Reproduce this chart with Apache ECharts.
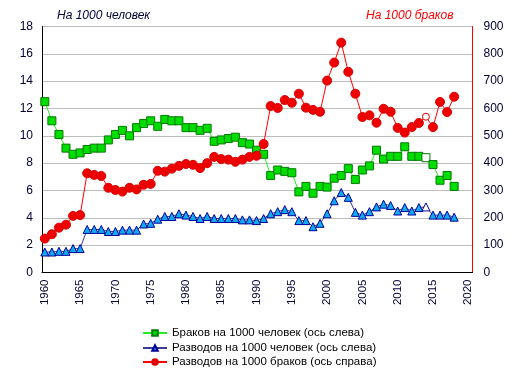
<!DOCTYPE html>
<html>
<head>
<meta charset="utf-8">
<script src="https://cdn.jsdelivr.net/npm/echarts@6/dist/echarts.min.js"></script>
<style>html,body{margin:0;padding:0;background:#fff}#c{width:520px;height:374px}</style>
</head>
<body>
<div id="c"></div>
<script>
var years = [];
for (var y = 1960; y <= 2018; y++) years.push(y);
var tickYears = [1960,1965,1970,1975,1980,1985,1990,1995,2000,2005,2010,2015,2020];
var marriages = [12.5,11.1,10.1,9.1,8.65,8.75,9.0,9.1,9.1,9.7,
  10.1,10.4,10.0,10.6,10.9,11.1,10.7,11.2,11.1,11.1,
  10.6,10.6,10.4,10.55,9.6,9.7,9.8,9.9,9.5,9.4,
  8.95,8.65,7.1,7.5,7.4,7.3,5.9,6.3,5.8,6.3,
  6.25,6.9,7.1,7.6,6.8,7.5,7.8,8.95,8.3,8.5,
  8.5,9.2,8.5,8.5,8.4,7.9,6.75,7.1,6.3];
var divorces = [1.5,1.5,1.55,1.55,1.75,1.75,3.15,3.15,3.15,3.0,
  3.0,3.1,3.1,3.1,3.55,3.6,3.9,4.1,4.1,4.3,
  4.2,4.1,3.95,4.1,3.95,3.95,3.95,3.95,3.85,3.85,
  3.8,3.95,4.3,4.45,4.6,4.45,3.8,3.8,3.35,3.6,
  4.3,5.25,5.85,5.5,4.4,4.2,4.45,4.8,5.0,4.9,
  4.5,4.75,4.5,4.75,4.8,4.2,4.2,4.2,4.05];
var ratio = [124,140,164,175,207,210,363,357,353,310,
  302,296,310,304,321,324,372,369,380,390,
  397,394,382,400,423,415,413,405,413,423,
  427,470,609,602,631,621,654,603,595,588,
  702,768,841,734,654,569,575,548,599,588,
  529,512,532,547,570,532,624,587,643];
var hollowYear = 2014;
var names = ['Браков на 1000 человек (ось слева)','Разводов на 1000 человек (ось слева)','Разводов на 1000 браков (ось справа)'];

function build(vals, hollowSize) {
  return years.map(function (yr, i) {
    var d = { value: [yr, vals[i]] };
    if (yr === hollowYear) { d.itemStyle = { color: '#ffffff' }; if (hollowSize) d.symbolSize = hollowSize; }
    return d;
  });
}

var font = 'Liberation Sans, Arial, sans-serif';
function legendAt(name, top) {
  return { orient: 'vertical', left: 142, top: top, itemWidth: 24, itemHeight: 7, itemGap: 4, padding: 0,
    textStyle: { fontFamily: font, fontSize: 11.5, color: '#000000' }, data: [name] };
}
var chart = echarts.init(document.getElementById('c'), null, { renderer: 'canvas' });
chart.setOption({
  animation: false,
  backgroundColor: '#ffffff',
  title: [
    { text: 'На 1000 человек', left: 52, top: 5, textStyle: { fontFamily: font, fontSize: 12, fontStyle: 'italic', fontWeight: 'normal', color: '#000033' } },
    { text: 'На 1000 браков', left: 361, top: 5, textStyle: { fontFamily: font, fontSize: 12, fontStyle: 'italic', fontWeight: 'normal', color: '#ff0000' } }
  ],
  grid: { left: 42, right: 47.5, top: 26.5, bottom: 101.5, containLabel: false },
  legend: [legendAt(names[0], 327), legendAt(names[1], 342), legendAt(names[2], 356)],
  xAxis: {
    type: 'value', min: 1959.6, max: 2020.6,
    axisLine: { show: true, lineStyle: { color: '#000000', width: 1 } },
    axisTick: { show: false },
    splitLine: { show: false },
    axisLabel: { customValues: tickYears, rotate: 90, margin: 7, color: '#000033', fontFamily: font, fontSize: 11.5, formatter: function (v) { return String(v); } }
  },
  yAxis: [
    { type: 'value', min: 0, max: 18, interval: 2, position: 'left',
      axisLine: { show: true, lineStyle: { color: '#000000' } }, axisTick: { show: false },
      splitLine: { show: true, lineStyle: { color: '#bdbdbd', width: 1 } },
      axisLabel: { color: '#000033', fontFamily: font, fontSize: 12, margin: 9 } },
    { type: 'value', min: 0, max: 900, interval: 100, position: 'right',
      axisLine: { show: true, lineStyle: { color: '#ff0000' } }, axisTick: { show: false },
      splitLine: { show: false },
      axisLabel: { color: '#000033', fontFamily: font, fontSize: 12, margin: 11 } }
  ],
  series: [
    { name: names[0], type: 'line', yAxisIndex: 0, data: build(marriages), symbol: 'rect', symbolSize: 8,
      lineStyle: { color: '#22ee22', width: 1 }, itemStyle: { color: '#00dd00', borderColor: '#007a00', borderWidth: 1 }, z: 3 },
    { name: names[1], type: 'line', yAxisIndex: 0, data: build(divorces), symbol: 'triangle', symbolSize: 8,
      lineStyle: { color: '#3a3a9a', width: 1 }, itemStyle: { color: '#11aaee', borderColor: '#000099', borderWidth: 1 }, z: 3 },
    { name: names[2], type: 'line', yAxisIndex: 1, data: build(ratio, 7), symbol: 'circle', symbolSize: 9,
      lineStyle: { color: '#ff0000', width: 1 }, itemStyle: { color: '#ee0000', borderColor: '#dd0000', borderWidth: 1 }, z: 4 }
  ]
});
</script>
</body>
</html>
